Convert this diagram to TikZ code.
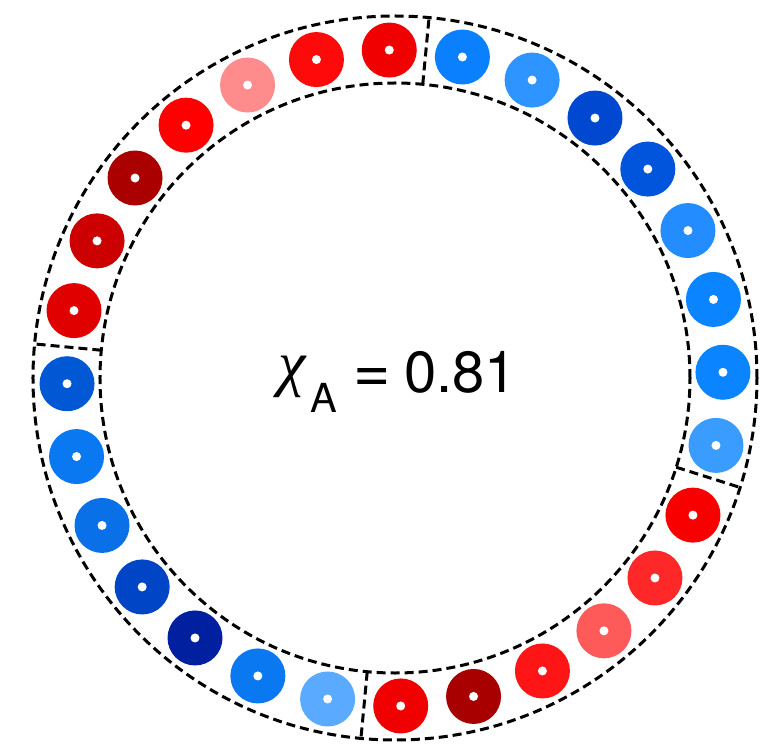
\documentclass[tikz,border=0pt]{standalone}
\usepackage{fontspec}
\setmainfont{TeX Gyre Heros}
\newfontfamily\grkfont{Liberation Serif}
\begin{document}
\begin{tikzpicture}[x=1pt,y=1pt,
  ring/.style={draw=black, line width=3pt, dash pattern=on 9pt off 5pt},
  dot/.style={circle, inner sep=0pt, minimum size=55pt, draw=none},
  hole/.style={fill=white}]
\useasboundingbox (-395,-366) rectangle (384,378);
% ring
\draw[ring] (0,0) circle (362);
\draw[ring] (0,0) circle (295);
\foreach \a in {84.6,-17.6,-95.4,174.6}
  \draw[ring] (\a:295) -- (\a:362);
% dots
\foreach \k/\col in {0/F00000,1/0A80FF,2/2E94FF,3/0048D0,4/0055DC,5/238CFF,6/0A84FF,7/0A84FF,
  8/3A9CFF,9/F80000,10/FF2828,11/FF5A5A,12/FF1515,13/A80000,14/F00000,
  15/5AABFF,16/0A78F0,17/00209F,18/0045C5,19/0A70E8,20/0A78F0,21/0058D5,
  22/E00000,23/CC0000,24/AA0000,25/FF0000,26/FF8C8C,27/FF0A0A}{
  \definecolor{dotc}{HTML}{\col}
  \node[dot, fill=dotc] (d\k) at ({91-\k*360/28}:328) {};
  \fill[hole] (d\k.center) circle (4.5);
}
% label
\node[anchor=base west, inner sep=0pt] (lbl) at (-117,-14)
  {\makebox[32pt][l]{\raisebox{8pt}{\fontsize{62}{62}\selectfont\grkfont\itshape χ}}%
   \makebox[43pt][l]{\raisebox{-20pt}{\fontsize{40}{40}\selectfont A}}%
   \makebox[51pt][l]{\fontsize{64}{64}\selectfont =}%
   {\fontsize{58}{58}\selectfont 0.81}};
\end{tikzpicture}
\end{document}
